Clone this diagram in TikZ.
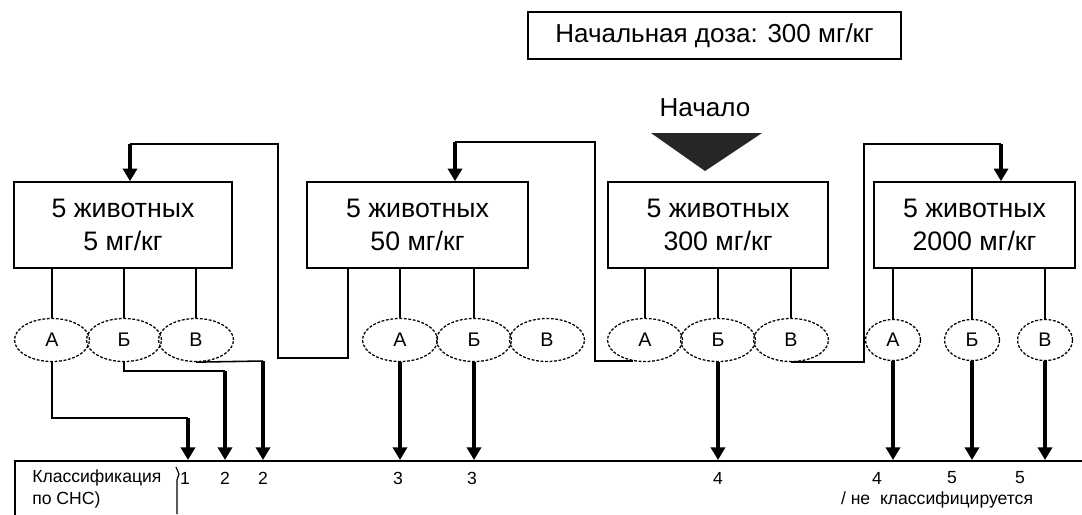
\documentclass[tikz,border=0pt]{standalone}
\usepackage{fontspec}
\setmainfont{Liberation Sans}
\usetikzlibrary{shapes.geometric,arrows.meta}
\begin{document}
\begin{tikzpicture}[x=0.025cm,y=-0.025cm,
 ln/.style={line width=1.1pt},
 arr/.style={line width=2.6pt,-{Triangle[width=10pt,length=9pt]}},
 dose/.style={draw,line width=1.1pt,minimum height=2.15cm,align=center,font=\fontsize{19}{24}\selectfont,inner sep=0pt},
 res/.style={draw,ellipse,dash pattern=on 2pt off 1.2pt,line width=0.9pt,minimum width=1.875cm,minimum height=1.075cm,inner sep=0pt,font=\fontsize{14}{14}\selectfont},
 ress/.style={res,minimum width=1.375cm,minimum height=1.025cm},
 lbl/.style={font=\fontsize{12.5}{12.5}\selectfont,inner sep=0pt}]
\useasboundingbox (0,0) rectangle (1082,514);
% header
\node[draw,line width=1.1pt,minimum width=9.325cm,minimum height=1.175cm,inner sep=0pt,font=\fontsize{18.5}{18.5}\selectfont] (init) at (714.5,35.5) {Начальная доза: 300 мг/кг};
\node[font=\fontsize{18.5}{18.5}\selectfont,inner sep=0pt] (start) at (705,108) {Начало};
\fill[black!85] (651,133) -- (762,133) -- (705,171) -- cycle;
% dose boxes
\node[dose,minimum width=5.45cm] (b1) at (123,225) {5 животных\\5 мг/кг};
\node[dose,minimum width=5.525cm] (b2) at (417.5,225) {5 животных\\50 мг/кг};
\node[dose,minimum width=5.5cm] (b3) at (718,225) {5 животных\\300 мг/кг};
\node[dose,minimum width=5.025cm] (b4) at (974.5,225) {5 животных\\2000 мг/кг};
% outcome ellipses
\node[res] (e1a) at (52,340) {А};
\node[res] (e1b) at (124,340) {Б};
\node[res] (e1v) at (196,340) {В};
\node[res] (e2a) at (400,340) {А};
\node[res] (e2b) at (474,340) {Б};
\node[res] (e2v) at (547,340) {В};
\node[res] (e3a) at (645,340) {А};
\node[res] (e3b) at (718,340) {Б};
\node[res] (e3v) at (791,340) {В};
\node[ress] (e4a) at (893,340) {А};
\node[ress] (e4b) at (972,340) {Б};
\node[ress] (e4v) at (1045,340) {В};
% box to ellipse
\foreach \b/\e in {b1/e1a,b1/e1b,b1/e1v,b2/e2a,b2/e2b,b3/e3a,b3/e3b,b3/e3v,b4/e4a,b4/e4b,b4/e4v}
  \draw[ln] (\e.north |- \b.south) -- (\e.north);
% bottom classification box
\node[draw,line width=1.1pt,anchor=north west,minimum width=27.5cm,minimum height=2cm,inner sep=0pt] (bot) at (14,460) {};
% loops between doses
\draw[ln] (348,0 |- b2.south) -- (348,358) -- (278,358) -- (278,144) -- (130,144);
\draw[arr] (130,144) -- (130,0 |- b1.north);
\draw[ln] (e3a.240) -| (595,142) -- (455,142);
\draw[arr] (455,142) -- (455,0 |- b2.north);
\draw[ln] (e3v.south) -| (864,144) -- (1001,144);
\draw[arr] (1001,144) -- (1001,0 |- b4.north);
% outcomes to classification
\draw[ln] (e1a.south) |- (188,418);
\draw[arr] (188,418) -- (188,0 |- bot.north);
\draw[ln] (e1b.south) |- (225,371);
\draw[arr] (225,371) -- (225,0 |- bot.north);
\draw[ln] (e1v.south) -- (263,361);
\draw[arr] (263,361) -- (263,0 |- bot.north);
\foreach \e in {e2a,e2b,e3b,e4a,e4b,e4v}
  \draw[arr] (\e.south) -- (\e.south |- bot.north);
% labels
\node[lbl,anchor=west] (k1) at (32,478) {Классификация};
\node[lbl,anchor=west] (k2) at (32,500) {по СНС)};
\draw[line width=0.8pt] (176,467) -- (179,474) -- (177,480) -- (177,514);
\foreach \x/\t in {185/1,225/2,263/2,398/3,472/3,718/4,877/4,952/5,1020/5}
  \node[lbl] at (\x,478) {\t};
\node[lbl] (nc) at (937,500) {/ не\ \ классифицируется};
\end{tikzpicture}
\end{document}
